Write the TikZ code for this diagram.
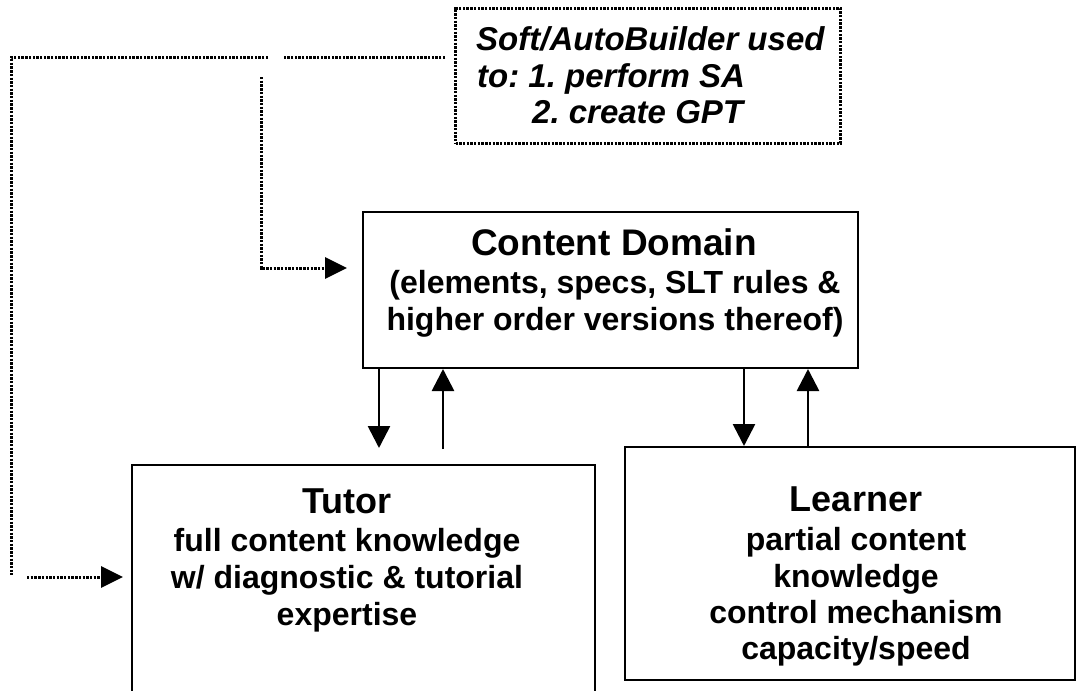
\documentclass[tikz,border=0pt]{standalone}
\usepackage{fontspec}
\setmainfont{Liberation Sans}
\usetikzlibrary{arrows.meta}
\begin{document}
\frenchspacing
\begin{tikzpicture}[x=1pt,y=-1pt,
  box/.style={draw, line width=2pt, inner sep=0pt},
  dotline/.style={line width=3pt, dash pattern=on 2.4pt off 1.3pt},
  dotarrow/.style={dotline, -{Triangle[length=22pt,width=21pt]}},
  solidarrow/.style={line width=2.7pt, -{Triangle[length=22pt,width=22pt]}},
  ttl/.style={font=\fontsize{36}{41}\selectfont\bfseries, anchor=base, inner sep=0pt},
  body/.style={font=\fontsize{32}{37}\selectfont\bfseries, anchor=base, inner sep=0pt},
  softtxt/.style={font=\fontsize{33}{38}\selectfont\bfseries\itshape, anchor=base west, inner sep=0pt}]
\useasboundingbox (0,0) rectangle (1077,691);
\clip (0,0) rectangle (1077,691);

% boxes
\node[draw, dotline, minimum width=385pt, minimum height=135pt, inner sep=0pt] (sb) at (648,75.5) {};
\node[box, minimum width=495pt, minimum height=156pt] (cd) at (610.5,290) {};
\node[box, minimum width=463pt, minimum height=275pt] (tu) at (363.5,602.5) {};
\node[box, minimum width=450pt, minimum height=233pt] (ln) at (850,563.5) {};

% soft box text
\node[softtxt] (s1) at (476,50) {Soft/AutoBuilder used};
\node[softtxt] (s2) at (477,87) {to: 1. perform SA};
\node[softtxt] (s3) at (532,123) {2. create GPT};

% content domain text
\node[ttl, font=\fontsize{37}{42}\selectfont\bfseries] (cdt) at (614,255) {Content Domain};
\node[body] (cd1) at (615,293) {(elements, specs, SLT rules \&};
\node[body] (cd2) at (615,330) {higher order versions thereof)};

% tutor text
\node[ttl] (tut) at (347,513) {Tutor};
\node[body] (tu1) at (347,551) {full content knowledge};
\node[body] (tu2) at (347,588) {w/ diagnostic \& tutorial};
\node[body] (tu3) at (347,625) {expertise};

% learner text
\node[ttl] (lnt) at (856,511) {Learner};
\node[body] (ln1) at (856,550) {partial content};
\node[body] (ln2) at (856,587) {knowledge};
\node[body] (ln3) at (856,623) {control mechanism};
\node[body] (ln4) at (856,659) {capacity/speed};

% solid arrows
\coordinate (a1) at (379,448);
\coordinate (a2) at (443,449);
\coordinate (a3) at (744,0);
\coordinate (a4) at (808,0);
\draw[solidarrow] (cd.south -| a1) -- (a1);
\draw[solidarrow] (a2) -- (cd.south -| a2);
\draw[solidarrow] (cd.south -| a3) -- (ln.north -| a3);
\draw[solidarrow] (ln.north -| a4) -- (cd.south -| a4);

% dotted connectors
\coordinate (p1) at (445,57);
\coordinate (p2) at (283,57);
\coordinate (p3) at (268,57);
\coordinate (p4) at (11,57);
\coordinate (p5) at (11,575);
\coordinate (p6) at (27,577);
\coordinate (p7) at (123,577);
\draw[dotline] (p1) -- (p2);
\draw[dotline] (p3) -- (p4) -- (p5);
\draw[dotarrow] (p6) -- (p7);

\coordinate (q1) at (261,77);
\coordinate (q2) at (261,268);
\coordinate (q3) at (347,268);
\draw[dotarrow] (q1) -- (q2) -- (q3);
\end{tikzpicture}
\end{document}
